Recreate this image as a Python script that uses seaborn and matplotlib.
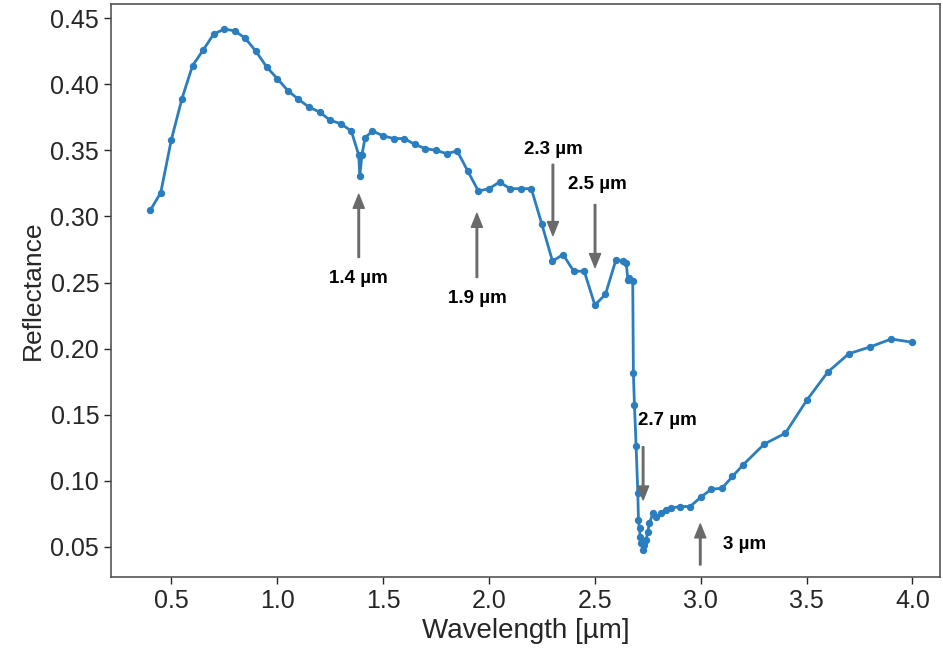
"""Reflectance spectrum with absorption band markers."""

import matplotlib
matplotlib.use("Agg")
import matplotlib.pyplot as plt
import pandas as pd
import seaborn as sns

wavelength = [
    0.40, 0.45, 0.50, 0.55, 0.60, 0.65, 0.70, 0.75, 0.80, 0.85,
    0.90, 0.95, 1.00, 1.05, 1.10, 1.15, 1.20, 1.25, 1.30, 1.35,
    1.385, 1.39, 1.40, 1.415, 1.45, 1.50, 1.55, 1.60, 1.65, 1.70,
    1.75, 1.80, 1.85, 1.90, 1.95, 2.00, 2.05, 2.10, 2.15, 2.20,
    2.25, 2.30, 2.35, 2.40, 2.45, 2.50, 2.55, 2.60, 2.632, 2.648,
    2.656, 2.663, 2.679, 2.682, 2.687, 2.695, 2.703, 2.706, 2.711, 2.714,
    2.719, 2.727, 2.734, 2.742, 2.750, 2.758, 2.774, 2.790, 2.813, 2.837,
    2.860, 2.900, 2.950, 3.00, 3.05, 3.10, 3.15, 3.20, 3.30, 3.40,
    3.50, 3.60, 3.70, 3.80, 3.90, 4.00,
]
reflectance = [
    0.3045, 0.318, 0.358, 0.389, 0.414, 0.4258, 0.4379, 0.4417, 0.4404, 0.4346,
    0.4248, 0.4131, 0.4043, 0.3952, 0.3886, 0.3827, 0.379, 0.3727, 0.3702, 0.3646,
    0.3464, 0.3305, 0.3464, 0.3596, 0.3646, 0.3610, 0.3589, 0.3589, 0.3545, 0.3513,
    0.3500, 0.3475, 0.3495, 0.3343, 0.3192, 0.3210, 0.3260, 0.3210, 0.3210, 0.3210,
    0.2940, 0.2662, 0.2712, 0.2586, 0.2586, 0.2330, 0.2410, 0.2674, 0.2661, 0.2650,
    0.2523, 0.2535, 0.2510, 0.1815, 0.1576, 0.1260, 0.0907, 0.0705, 0.0641, 0.0578,
    0.0528, 0.0477, 0.0515, 0.0553, 0.0616, 0.0679, 0.0755, 0.0730, 0.0755, 0.0780,
    0.0793, 0.0806, 0.0806, 0.0876, 0.0937, 0.0944, 0.1033, 0.1121, 0.1278, 0.1361,
    0.1608, 0.1823, 0.1962, 0.2013, 0.2073, 0.2048,
]

band_labels = ["1.4 µm", "1.9 µm", "2.3 µm", "2.5 µm", "2.7 µm", "3 µm"]
label_x = [1.385, 1.943, 2.302, 2.510, 2.704, 3.106]
label_y = [0.253, 0.238, 0.351, 0.324, 0.1455, 0.0515]
label_ha = ["center", "center", "center", "center", "left", "left"]
arrow_x = [1.385, 1.943, 2.302, 2.501, 2.728, 2.998]
arrow_tail_y = [0.269, 0.2538, 0.3394, 0.309, 0.1258, 0.0364]
arrow_tip_y = [0.3167, 0.3023, 0.2856, 0.2614, 0.0856, 0.0674]

sns.set_theme(style="ticks")
plt.rcParams["font.family"] = ["Liberation Sans", "DejaVu Sans"]

df = pd.DataFrame({"wavelength": wavelength, "reflectance": reflectance})

fig, ax = plt.subplots(figsize=(9.43, 6.51), dpi=100)
fig.subplots_adjust(left=0.1177, right=0.9968, bottom=0.1137, top=0.9939)

sns.lineplot(
    data=df, x="wavelength", y="reflectance", ax=ax,
    color="#2a7dbf", linewidth=2.0, marker="o", markersize=5.3,
    markeredgecolor="#2a7dbf", markeredgewidth=0,
)

for lab, tx, ty, ha, ax_x, t0, t1 in zip(band_labels, label_x, label_y, label_ha,
                                          arrow_x, arrow_tail_y, arrow_tip_y):
    ax.annotate(
        "", xy=(ax_x, t1), xytext=(ax_x, t0),
        arrowprops=dict(facecolor="#6a6a6a", edgecolor="#6a6a6a",
                        width=1.1, headwidth=8, headlength=10, shrink=0),
    )
    ax.text(tx, ty, lab, ha=ha, va="center", fontsize=13.5,
            fontweight="bold", color="black")

ax.set_xlim(0.215, 4.13)
ax.set_ylim(0.0273, 0.4607)
ax.set_xticks([0.5, 1.0, 1.5, 2.0, 2.5, 3.0, 3.5, 4.0])
ax.set_yticks([0.05, 0.10, 0.15, 0.20, 0.25, 0.30, 0.35, 0.40, 0.45])
ax.set_xlabel("Wavelength [µm]", fontsize=20, color="#262626")
ax.set_ylabel("Reflectance", fontsize=19, color="#262626")
ax.tick_params(labelsize=18, colors="#262626", length=5, width=1)
for spine in ax.spines.values():
    spine.set_color("#555555")
    spine.set_linewidth(1.2)

fig.savefig("out.png", dpi=100)
